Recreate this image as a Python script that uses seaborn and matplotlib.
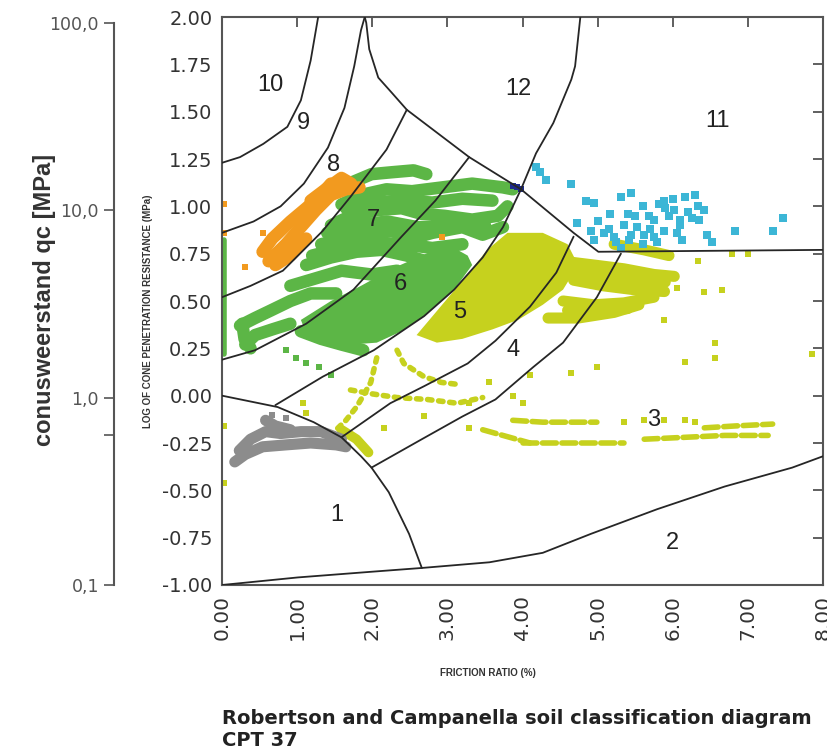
import matplotlib
matplotlib.use("Agg")
import numpy as np
import matplotlib.pyplot as plt
import seaborn as sns
from matplotlib.ticker import FixedLocator, NullFormatter

# ---- axis ticks -------------------------------------------------------------
x_ticks = [0, 1, 2, 3, 4, 5, 6, 7, 8]
y_ticks = [-1.0, -0.75, -0.5, -0.25, 0.0, 0.25, 0.5, 0.75, 1.0, 1.25, 1.5, 1.75, 2.0]
qc_ticks = [0.1, 1, 10, 100]
qc_labels = ['0,1', '1,0', '10,0', '100,0']

# ---- zone boundaries (friction ratio %, log qc) ------------------------------
b_10_9 = [(1.28, 2.00), (1.18, 1.77), (1.05, 1.56), (0.87, 1.42), (0.55, 1.33), (0.24, 1.26), (0.00, 1.23)]
b_9_8 = [(1.90, 2.00), (1.85, 1.93), (1.76, 1.74), (1.63, 1.52), (1.41, 1.31), (1.09, 1.12),
         (0.78, 1.00), (0.42, 0.92), (0.00, 0.86)]
b_12 = [(1.90, 2.00), (1.92, 1.97), (1.96, 1.83), (2.08, 1.68), (2.26, 1.60), (2.46, 1.51),
        (3.29, 1.26), (3.98, 1.09), (4.68, 0.86), (5.01, 0.76), (8.00, 0.77)]
b_12_11 = [(4.77, 2.00), (4.70, 1.74), (4.65, 1.67), (4.41, 1.44), (4.18, 1.28), (3.98, 1.09)]
b_8_7 = [(2.46, 1.51), (2.19, 1.30), (1.71, 1.05), (1.34, 0.87), (0.81, 0.66), (0.38, 0.58), (0.00, 0.52)]
b_7_6 = [(3.29, 1.26), (2.84, 1.03), (2.39, 0.84), (1.75, 0.56), (1.12, 0.38), (0.44, 0.24), (0.00, 0.19)]
b_6_5 = [(3.98, 1.09), (3.74, 0.89), (3.47, 0.73), (3.09, 0.56), (2.69, 0.42), (2.02, 0.24),
         (1.34, 0.10), (0.71, -0.05)]
b_5_4 = [(4.68, 0.84), (4.45, 0.65), (4.10, 0.47), (3.64, 0.29), (3.27, 0.17), (2.69, 0.05),
         (2.24, -0.04), (1.59, -0.22)]
b_4_3 = [(5.31, 0.75), (4.99, 0.52), (4.54, 0.28), (4.14, 0.15), (3.64, -0.02), (3.20, -0.11),
         (2.66, -0.23), (1.99, -0.38)]
b_1 = [(0.00, 0.00), (0.74, -0.06), (1.22, -0.14), (1.59, -0.22), (1.85, -0.32), (1.99, -0.38),
       (2.22, -0.51), (2.49, -0.73), (2.66, -0.91)]
b_2 = [(0.00, -1.00), (1.01, -0.96), (1.99, -0.93), (2.66, -0.91), (3.56, -0.88), (4.27, -0.83),
       (4.91, -0.73), (5.79, -0.60), (6.69, -0.48), (7.59, -0.38), (8.00, -0.32)]

# ---- zone numbers -------------------------------------------------------------
zone_names = ['10', '9', '8', '7', '6', '5', '4', '3', '2', '1', '12', '11']
zone_x = [0.65, 1.09, 1.49, 2.02, 2.37, 3.16, 3.87, 5.75, 5.99, 1.53, 3.95, 6.60]
zone_y = [1.64, 1.44, 1.22, 0.93, 0.59, 0.44, 0.24, -0.13, -0.78, -0.63, 1.62, 1.45]

# ---- CPT 37 data -------------------------------------------------------------
orange_tracks = [
    [(0.62, 0.71), (0.85, 0.80), (1.05, 0.89), (1.25, 0.98), (1.45, 1.06), (1.65, 1.09), (1.83, 1.10)],
    [(0.54, 0.76), (0.67, 0.83), (0.91, 0.92), (1.12, 0.99), (1.32, 1.06), (1.45, 1.12)],
    [(0.71, 0.69), (0.91, 0.74), (1.12, 0.83)],
    [(1.18, 1.03), (1.38, 1.09), (1.59, 1.15), (1.72, 1.12)],
]
orange_dots_x = [0.54, 0.31, 0.03, 0.03, 2.93]
orange_dots_y = [0.86, 0.68, 1.01, 0.86, 0.84]

green_core = [(1.05, 0.40), (1.45, 0.50), (1.85, 0.58), (2.26, 0.67), (2.66, 0.74), (3.00, 0.80),
              (3.27, 0.74), (3.33, 0.69), (3.09, 0.56), (2.69, 0.42), (2.39, 0.34), (2.06, 0.28),
              (1.72, 0.27), (1.38, 0.29), (1.12, 0.33)]
green_tracks = [
    [(1.75, 1.13), (1.99, 1.17), (2.26, 1.18), (2.55, 1.19), (2.72, 1.17)],
    [(1.59, 1.01), (1.85, 1.06), (2.19, 1.09), (2.53, 1.08), (2.93, 1.10), (3.33, 1.12), (3.74, 1.10), (3.87, 1.09)],
    [(1.65, 0.99), (2.00, 1.02), (2.40, 1.03), (2.80, 1.02), (3.20, 1.04), (3.60, 1.03)],
    [(1.45, 0.90), (1.72, 0.95), (2.06, 0.98), (2.39, 0.99), (2.66, 0.96), (2.96, 0.95), (3.33, 0.93), (3.67, 0.95), (3.80, 1.00)],
    [(1.40, 0.86), (1.80, 0.90), (2.20, 0.92), (2.60, 0.89), (3.00, 0.89), (3.50, 0.90)],
    [(1.32, 0.80), (1.65, 0.83), (1.92, 0.86), (2.26, 0.87), (2.53, 0.83), (2.80, 0.86), (3.20, 0.89), (3.47, 0.85), (3.74, 0.89)],
    [(1.20, 0.74), (1.60, 0.78), (2.00, 0.81), (2.40, 0.80), (2.80, 0.78), (3.20, 0.80)],
    [(1.12, 0.69), (1.45, 0.73), (1.79, 0.76), (2.12, 0.77), (2.46, 0.74), (2.80, 0.70), (3.13, 0.72)],
    [(0.91, 0.58), (1.25, 0.62), (1.59, 0.66), (1.99, 0.64), (2.33, 0.66)],
    [(0.24, 0.37), (0.44, 0.41), (0.65, 0.45), (0.91, 0.50), (1.18, 0.54), (1.52, 0.54)],
    [(0.31, 0.27), (0.44, 0.32), (0.67, 0.35), (0.91, 0.38)],
    [(0.27, 0.38), (0.30, 0.30), (0.38, 0.25)],
    [(1.05, 0.34), (1.32, 0.30), (1.59, 0.27), (1.88, 0.24)],
]
green_edge = [(0.03, 0.82), (0.03, 0.70), (0.03, 0.55), (0.03, 0.40), (0.03, 0.22)]
green_dots_x = [0.85, 0.98, 1.12, 1.29, 1.45]
green_dots_y = [0.24, 0.20, 0.17, 0.15, 0.11]

yellow_core = [(2.59, 0.32), (2.93, 0.48), (3.27, 0.64), (3.53, 0.77), (3.80, 0.86), (4.27, 0.86),
               (4.60, 0.80), (4.74, 0.69), (4.54, 0.56), (4.27, 0.48), (3.94, 0.40), (3.60, 0.35),
               (3.20, 0.30), (2.86, 0.28)]
yellow_tracks = [
    [(4.54, 0.71), (4.95, 0.69), (5.35, 0.67), (5.75, 0.64), (6.02, 0.63)],
    [(4.70, 0.65), (5.10, 0.63), (5.50, 0.61), (5.90, 0.60)],
    [(4.68, 0.61), (5.08, 0.58), (5.48, 0.56), (5.89, 0.55)],
    [(4.54, 0.50), (4.95, 0.48), (5.35, 0.49), (5.75, 0.52)],
    [(4.60, 0.45), (5.00, 0.45), (5.40, 0.46)],
    [(4.34, 0.41), (4.74, 0.41), (5.22, 0.44), (5.55, 0.48)],
    [(5.22, 0.80), (5.62, 0.77), (5.95, 0.74)],
]
yellow_trails = [
    [(2.06, 0.20), (1.98, 0.07), (1.88, 0.00), (1.79, -0.06), (1.65, -0.13), (1.52, -0.18)],
    [(2.33, 0.24), (2.42, 0.17), (2.69, 0.10), (2.92, 0.07), (3.13, 0.06)],
    [(1.71, 0.03), (1.99, 0.01), (2.33, -0.01), (2.73, -0.02), (3.13, -0.04), (3.47, -0.01)],
]
yellow_blob = [(1.59, -0.18), (1.79, -0.23), (1.95, -0.30)]
yellow_bands = [
    [(3.47, -0.18), (3.74, -0.21), (4.10, -0.25)],
    [(3.87, -0.13), (4.27, -0.14), (4.68, -0.14), (4.99, -0.14)],
    [(4.01, -0.25), (4.54, -0.25), (5.08, -0.25), (5.35, -0.25)],
    [(5.62, -0.23), (6.16, -0.22), (6.69, -0.21), (7.27, -0.21)],
    [(6.42, -0.17), (6.83, -0.16), (7.33, -0.15)],
]
yellow_dots_x = [6.33, 6.42, 6.65, 6.06, 5.89, 4.64, 4.99, 6.16, 6.56, 6.56, 7.86, 4.10, 7.00, 6.79,
                 5.35, 5.62, 5.89, 6.16, 6.30, 1.08, 1.12, 2.15, 2.69, 3.56, 3.87, 4.01, 3.29, 3.29,
                 0.02, 0.02]
yellow_dots_y = [0.71, 0.55, 0.56, 0.57, 0.40, 0.12, 0.15, 0.18, 0.20, 0.28, 0.22, 0.11, 0.75, 0.75,
                 -0.14, -0.13, -0.13, -0.13, -0.14, -0.04, -0.09, -0.17, -0.11, 0.07, 0.00, -0.04, -0.04, -0.17,
                 -0.16, -0.46]

cyan_x = [4.18, 4.31, 4.23, 4.64, 4.85, 4.95, 5.17, 5.31, 5.44, 5.89, 6.16, 6.33, 6.25, 5.75, 5.52,
          5.22, 4.91, 4.72, 5.31, 5.79, 6.12, 6.52, 6.83, 7.33, 7.47, 5.08, 5.62, 6.02, 6.09, 5.82,
          5.68, 5.35, 6.29, 6.42, 4.95, 5.42, 5.89, 5.50, 5.60, 5.95, 6.00, 5.70, 5.45, 6.20, 6.35,
          5.15, 5.00, 6.45, 6.05, 5.25, 5.60, 5.90, 6.10, 5.40, 5.75]
cyan_y = [1.21, 1.14, 1.18, 1.12, 1.03, 1.02, 0.96, 1.05, 1.07, 1.03, 1.05, 1.00, 0.94, 0.93, 0.89,
          0.84, 0.87, 0.91, 0.78, 0.81, 0.82, 0.81, 0.87, 0.87, 0.94, 0.86, 0.85, 0.98, 0.90, 1.01,
          0.95, 0.90, 1.06, 0.98, 0.82, 0.82, 0.87, 0.95, 1.00, 0.95, 1.04, 0.88, 0.85, 0.97, 0.93,
          0.88, 0.92, 0.85, 0.86, 0.81, 0.80, 0.99, 0.93, 0.96, 0.84]

gray_tracks = [
    [(0.23, -0.29), (0.38, -0.23), (0.58, -0.19), (0.78, -0.20), (1.05, -0.19), (1.32, -0.19), (1.59, -0.23)],
    [(0.17, -0.35), (0.31, -0.31), (0.54, -0.27), (0.85, -0.26), (1.18, -0.25), (1.52, -0.26), (1.65, -0.27)],
    [(0.58, -0.13), (0.71, -0.16), (0.91, -0.18)],
]
gray_dots_x = [0.67, 0.85]
gray_dots_y = [-0.10, -0.12]

blue_x = [3.87, 3.93, 3.98]
blue_y = [1.11, 1.10, 1.09]

ORANGE = '#f29a1f'
GREEN = '#5cb646'
YELLOW = '#c6d11e'
CYAN = '#3cb6d6'
GRAY = '#8c8c8c'
BLUE = '#1d2a8c'
LINE = '#262626'

sns.set_theme(style="white")
plt.rcParams['font.family'] = ['Liberation Sans', 'DejaVu Sans']

rect = [222 / 828, 1 - 585 / 749, 601 / 828, 568 / 749]
fig = plt.figure(figsize=(8.28, 7.49), dpi=100)
ax = fig.add_axes(rect)
ax.set_xlim(0, 8)
ax.set_ylim(-1, 2)


def draw_tracks(tracks, color, lw, ls='-'):
    for tr in tracks:
        xs, ys = zip(*tr)
        ax.plot(xs, ys, color=color, lw=lw, ls=ls, solid_capstyle='round', dash_capstyle='round',
                solid_joinstyle='round', zorder=2)


# data clouds
ax.fill(*zip(*green_core), color=GREEN, lw=0, zorder=1)
ax.fill(*zip(*yellow_core), color=YELLOW, lw=0, zorder=1)
draw_tracks(green_tracks, GREEN, 9)
draw_tracks([green_edge], GREEN, 4)
draw_tracks(orange_tracks, ORANGE, 9)
draw_tracks(yellow_tracks, YELLOW, 8)
draw_tracks(yellow_trails, YELLOW, 4, ls=(0, (0.8, 1.2)))
draw_tracks([yellow_blob], YELLOW, 7)
draw_tracks(yellow_bands, YELLOW, 4, ls=(0, (2.5, 1.0)))
draw_tracks(gray_tracks, GRAY, 8)
sns.scatterplot(x=orange_dots_x, y=orange_dots_y, color=ORANGE, s=25, marker='s', linewidth=0, ax=ax, zorder=2)
sns.scatterplot(x=green_dots_x, y=green_dots_y, color=GREEN, s=25, marker='s', linewidth=0, ax=ax, zorder=2)
sns.scatterplot(x=yellow_dots_x, y=yellow_dots_y, color=YELLOW, s=22, marker='s', linewidth=0, ax=ax, zorder=2)
sns.scatterplot(x=cyan_x, y=cyan_y, color=CYAN, s=38, marker='s', linewidth=0, ax=ax, zorder=2)
sns.scatterplot(x=gray_dots_x, y=gray_dots_y, color=GRAY, s=25, marker='s', linewidth=0, ax=ax, zorder=2)
sns.scatterplot(x=blue_x, y=blue_y, color=BLUE, s=25, marker='s', linewidth=0, ax=ax, zorder=3)

# zone boundaries
for b in [b_10_9, b_9_8, b_12, b_12_11, b_8_7, b_7_6, b_6_5, b_5_4, b_4_3, b_1, b_2]:
    xs, ys = zip(*b)
    ax.plot(xs, ys, color=LINE, lw=1.3, zorder=5)

for name, zx, zy in zip(zone_names, zone_x, zone_y):
    ax.text(zx, zy, name, ha='center', va='center', fontsize=17, color='#222222', zorder=6)

ax.set_xticks(x_ticks)
ax.set_xticklabels([f'{v:.2f}' for v in x_ticks], rotation=90, family='DejaVu Sans', fontsize=14.5)
ax.set_yticks(y_ticks)
ax.set_yticklabels([f'{v:.2f}' for v in y_ticks], family='DejaVu Sans', fontsize=14)
ax.tick_params(direction='in', length=7, width=1.2, top=True, right=True, color='#444444',
               labelcolor='#333333', pad=7)
for sp in ax.spines.values():
    sp.set_color('#555555')
    sp.set_linewidth(1.5)

ax.set_xlabel('FRICTION RATIO (%)', fontsize=7, fontweight='bold', color='#333333')
ax.xaxis.set_label_coords(0.443, -0.146)
ax.set_ylabel('LOG OF CONE PENETRATION RESISTANCE (MPa)', fontsize=7, fontweight='bold', color='#333333')
ax.yaxis.set_label_coords(-0.114, 0.482)

# outer qc axis (MPa, log)
ax2 = fig.add_axes(rect)
ax2.patch.set_visible(False)
ax2.set_yscale('log')
ax2.set_ylim(0.1, 107)
ax2.set_xticks([])
for side in ['top', 'right', 'bottom']:
    ax2.spines[side].set_visible(False)
ax2.spines['left'].set_position(('outward', 78))
ax2.spines['left'].set_bounds(0.1, 100)
ax2.spines['left'].set_color('#555555')
ax2.spines['left'].set_linewidth(1.5)
ax2.yaxis.set_major_locator(FixedLocator(qc_ticks))
ax2.set_yticklabels(qc_labels, family='DejaVu Sans', fontsize=12.5)
ax2.yaxis.set_minor_locator(FixedLocator([0.63]))
ax2.yaxis.set_minor_formatter(NullFormatter())
ax2.tick_params(which='both', direction='out', length=7, width=1.2, color='#555555',
                labelcolor='#555555', left=True)
ax2.grid(False)

fig.text(45 / 828, 1 - 300 / 749, 'conusweerstand qc [MPa]', rotation=90, ha='center', va='center',
         fontsize=17, fontweight='bold', color='#333333')
fig.text(222 / 828, 1 - 718 / 749, 'Robertson and Campanella soil classification diagram',
         ha='left', va='center', fontsize=14, fontweight='bold', color='#222222', family='DejaVu Sans')
fig.text(222 / 828, 1 - 741 / 749, 'CPT 37', ha='left', va='center', fontsize=14,
         fontweight='bold', color='#222222', family='DejaVu Sans')

fig.savefig('out.png', dpi=100)
